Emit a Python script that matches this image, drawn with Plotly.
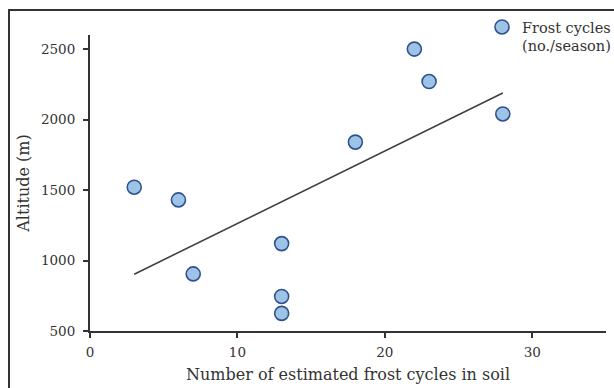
import numpy as np
import plotly.graph_objects as go

frost_cycles = [3, 6, 7, 13, 13, 13, 18, 22, 23, 28]
altitude = [1520, 1430, 905, 1120, 745, 625, 1840, 2500, 2270, 2040]
x_ticks = [0, 10, 20, 30]
y_ticks = [500, 1000, 1500, 2000, 2500]

W, H = 614, 388
L, R, T, B = 90, 8, 35, 57
pw, ph = W - L - R, H - T - B

slope, intercept = np.polyfit(frost_cycles, altitude, 1)
fx = [min(frost_cycles), max(frost_cycles)]
fy = [slope * v + intercept for v in fx]

font = "DejaVu Serif"
col = "#333333"
fig = go.Figure()
fig.add_trace(go.Scatter(x=fx, y=fy, mode="lines", line=dict(color="#404040", width=1.6),
                         showlegend=False, hoverinfo="skip"))
fig.add_trace(go.Scatter(x=frost_cycles, y=altitude, mode="markers",
                         name="Frost cycles<br>(no./season)",
                         marker=dict(size=14, color="#9DC3E6",
                                     line=dict(color="#2F528F", width=1.6))))

def px_x(p):
    return (p - L) / pw

def px_y(p):
    return 1 - (p - T) / ph

fig.add_shape(type="rect", xref="paper", yref="paper",
              x0=px_x(9), x1=px_x(620), y0=px_y(395), y1=px_y(10),
              line=dict(color=col, width=2), fillcolor="rgba(0,0,0,0)", layer="below")

fig.update_layout(
    width=W, height=H,
    margin=dict(l=L, r=R, t=T, b=B, autoexpand=False),
    plot_bgcolor="white", paper_bgcolor="white",
    font=dict(family=font, size=13, color=col),
    showlegend=True,
    legend=dict(x=px_x(482), y=px_y(11), xanchor="left", yanchor="top", valign="top",
                bgcolor="rgba(0,0,0,0)", font=dict(family=font, size=14.5, color=col),
                itemwidth=30, tracegroupgap=0),
    xaxis=dict(range=[0, 35], tickvals=x_ticks, showgrid=False, zeroline=False,
               showline=True, linecolor=col, linewidth=2,
               ticks="outside", ticklen=5, tickwidth=1.5, tickcolor=col,
               ticklabelstandoff=3,
               tickfont=dict(family=font, size=13.5, color=col),
               title=dict(text="Number of estimated frost cycles in soil", standoff=10,
                          font=dict(family=font, size=16, color=col))),
    yaxis=dict(range=[500, 2600], tickvals=y_ticks, showgrid=False, zeroline=False,
               showline=True, linecolor=col, linewidth=2,
               ticks="outside", ticklen=5, tickwidth=1.5, tickcolor=col,
               ticklabelstandoff=5,
               tickfont=dict(family=font, size=13.5, color=col),
               title=dict(text="Altitude (m)", standoff=7,
                          font=dict(family=font, size=16, color=col))),
)
fig.add_annotation(text="A.", xref="paper", yref="paper", x=px_x(8), y=px_y(2),
                   xanchor="left", yanchor="bottom", showarrow=False,
                   font=dict(family=font, size=14, color=col))

fig.write_html("out.html")
